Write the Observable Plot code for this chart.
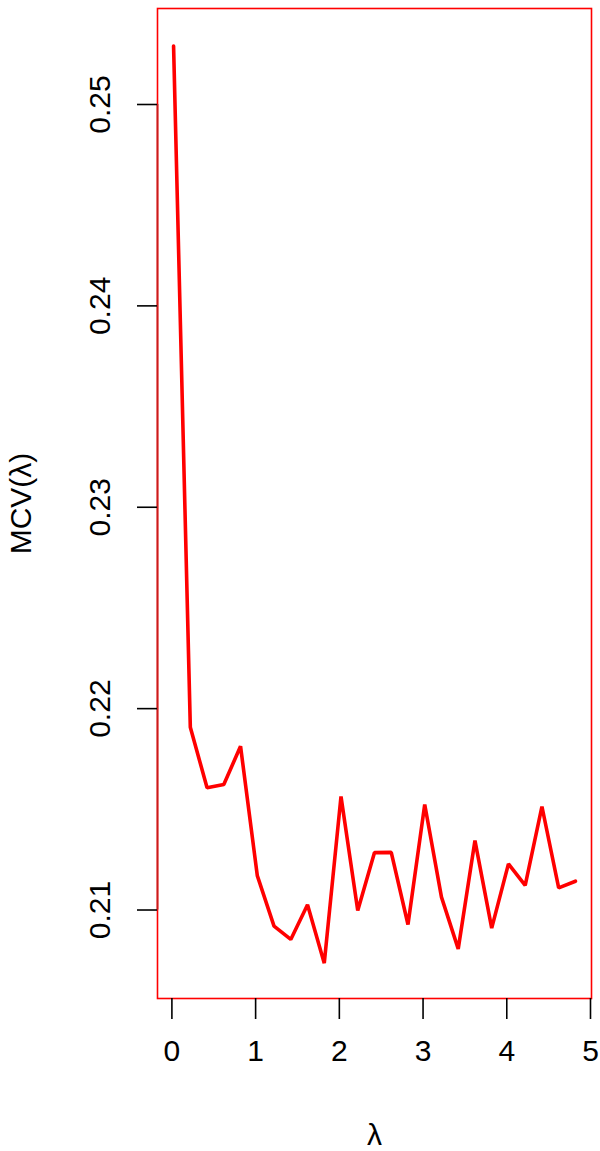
<!DOCTYPE html>
<html>
<head>
<meta charset="utf-8">
<script src="https://cdn.jsdelivr.net/npm/d3@7"></script>
<script src="https://cdn.jsdelivr.net/npm/@observablehq/plot@0.6"></script>
<style>
  html, body { margin: 0; padding: 0; background: #fff; }
  #chart svg { display: block; }
</style>
</head>
<body>
<div id="chart"></div>
<script>
const lambda = [0.02, 0.22, 0.42, 0.62, 0.82, 1.02, 1.22, 1.42, 1.62, 1.82, 2.02, 2.22, 2.42, 2.62, 2.82, 3.02, 3.22, 3.42, 3.62, 3.82, 4.02, 4.22, 4.42, 4.62, 4.82];
const mcv = [0.2529, 0.21908, 0.21607, 0.21623, 0.21813, 0.21171, 0.20920, 0.20854, 0.21026, 0.20736, 0.21564, 0.20998, 0.21285, 0.21286, 0.20928, 0.21524, 0.21064, 0.20807, 0.21345, 0.20910, 0.21229, 0.21122, 0.21514, 0.21110, 0.21143];
const xTicks = [0, 1, 2, 3, 4, 5];
const yTicks = [0.21, 0.22, 0.23, 0.24, 0.25];
const yTickLabels = ["0.21", "0.22", "0.23", "0.24", "0.25"];
const xTitle = "λ";
const yTitle = "MCV(λ)";

const data = lambda.map((x, i) => ({x, y: mcv[i]}));
const yLab = yTicks.map((v, i) => ({v, t: yTickLabels[i]}));
const xDomain = [-0.172, 5.012];
const yDomain = [0.205606, 0.254767];

const font = "Liberation Sans, Arial, Helvetica, sans-serif";

const chart = Plot.plot({
  width: 600,
  height: 1151,
  marginLeft: 157,
  marginRight: 9,
  marginTop: 8,
  marginBottom: 153,
  style: {fontFamily: font, background: "#fff", color: "#000"},
  x: {domain: xDomain},
  y: {domain: yDomain},
  marks: [
    Plot.frame({stroke: "#ff0000", strokeWidth: 1.6}),
    Plot.ruleX([xDomain[0]], {y1: yTicks[0], y2: yTicks[yTicks.length - 1], stroke: "#c81c1c", strokeWidth: 1.8}),
    Plot.axisX({ticks: xTicks, tickSize: 21, tickPadding: 20, fontSize: 30, tickFormat: d => String(d), label: null, strokeWidth: 1.6}),
    Plot.axisY({ticks: yTicks, tickSize: 20, tickFormat: () => "", label: null, strokeWidth: 1.6}),
    Plot.text(yLab, {y: "v", text: "t", frameAnchor: "left", dx: -57, rotate: -90, textAnchor: "middle", lineAnchor: "middle", fontSize: 30}),
    Plot.line(data, {x: "x", y: "y", stroke: "#ff0000", strokeWidth: 3.6, strokeLinejoin: "miter"}),
    Plot.text([xTitle], {frameAnchor: "bottom", dy: 137, fontSize: 30, lineAnchor: "middle"}),
    Plot.text([yTitle], {frameAnchor: "left", dx: -136, rotate: -90, fontSize: 30, lineAnchor: "middle", textAnchor: "middle"})
  ]
});
document.getElementById("chart").appendChild(chart);
</script>
</body>
</html>
